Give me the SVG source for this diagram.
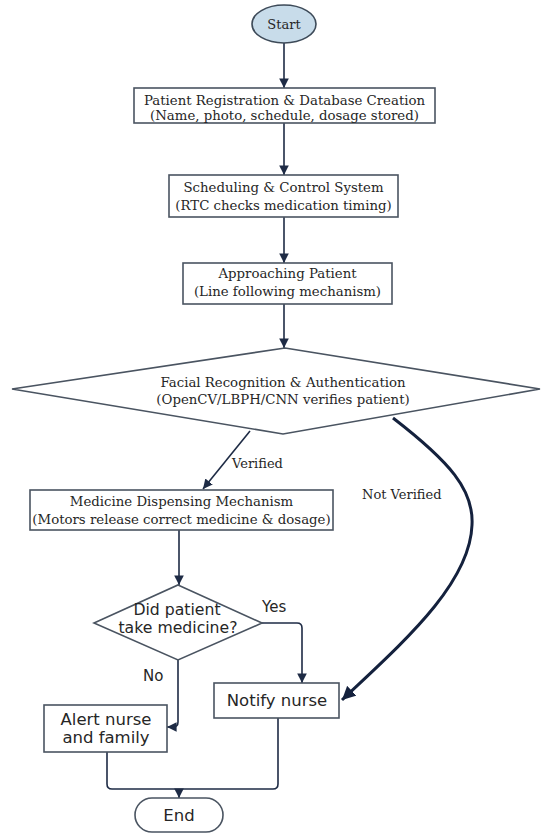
<svg xmlns="http://www.w3.org/2000/svg" width="542" height="834" viewBox="0 0 542 834">
<style>
.bg{fill:#ffffff}
.box{fill:#ffffff;stroke:#4a5461;stroke-width:1.6}
.term{fill:#c8dcea;stroke:#3d4a58;stroke-width:1.6}
.serif{font-family:"DejaVu Serif","Liberation Serif",serif;font-size:13.3px;fill:#262626;text-anchor:middle}
.sans{font-family:"DejaVu Sans","Liberation Sans",sans-serif;font-size:16.5px;fill:#262626;text-anchor:middle}
.conn{fill:none;stroke:#1e2b45;stroke-width:1.6}
.thick{fill:none;stroke:#14213d;stroke-width:3}
.lbl{font-family:"DejaVu Serif","Liberation Serif",serif;font-size:13px;fill:#262626}
.slbl{font-family:"DejaVu Sans","Liberation Sans",sans-serif;font-size:15px;fill:#262626}
</style>
<defs>
<marker id="ah" viewBox="0 0 10 10" refX="10" refY="5" markerWidth="6" markerHeight="6" markerUnits="strokeWidth" orient="auto">
<path d="M0,0 L10,5 L0,10 z" fill="#1e2b45"/>
</marker>
<marker id="ahs" viewBox="0 0 10 10" refX="10" refY="5" markerWidth="4.5" markerHeight="4.5" markerUnits="strokeWidth" orient="auto">
<path d="M0,0 L10,5 L0,10 z" fill="#14213d"/>
</marker>
</defs>
<rect class="bg" x="0" y="0" width="542" height="834"/>

<g id="connectors">
<path class="conn" d="M284,43 L284,88" marker-end="url(#ah)"/>
<path class="conn" d="M284,123 L284,175" marker-end="url(#ah)"/>
<path class="conn" d="M284,217 L284,263" marker-end="url(#ah)"/>
<path class="conn" d="M284,304 L284,348" marker-end="url(#ah)"/>
<path class="conn" d="M250,431 L203,489" marker-end="url(#ah)"/>
<path class="thick" d="M393,418 C450,462 474,490 472,525 C470,585 400,645 342,700" marker-end="url(#ahs)"/>
<path class="conn" d="M179,530 L179,585" marker-end="url(#ah)"/>
<path class="conn" d="M261,623 L297,623 Q302,623 302,628 L302,683" marker-end="url(#ah)"/>
<path class="conn" d="M178,660 L178,722 Q178,727 173,727 L167,727" marker-end="url(#ah)"/>
<path class="conn" d="M107,752 L107,784 Q107,789 112,789 L273,789 Q278,789 278,784 L278,718"/>
<path class="conn" d="M179,789 L179,798" marker-end="url(#ah)"/>
</g>

<g id="start">
<ellipse class="term" cx="284" cy="24" rx="32" ry="19"/>
<text class="serif" x="284" y="29" style="font-size:13px">Start</text>
</g>

<g id="registration">
<rect class="box" x="134" y="88" width="301" height="35"/>
<text class="serif" x="284.5" y="104.5">Patient Registration &amp; Database Creation</text>
<text class="serif" x="284.5" y="120">(Name, photo, schedule, dosage stored)</text>
</g>

<g id="scheduling">
<rect class="box" x="169" y="175" width="229" height="42"/>
<text class="serif" x="283.5" y="192">Scheduling &amp; Control System</text>
<text class="serif" x="283.5" y="210">(RTC checks medication timing)</text>
</g>

<g id="approaching">
<rect class="box" x="183" y="263" width="209" height="41"/>
<text class="serif" x="287.5" y="278">Approaching Patient</text>
<text class="serif" x="287.5" y="296">(Line following mechanism)</text>
</g>

<g id="facial">
<polygon class="box" points="285,348 540,389 283,434 12,389"/>
<text class="serif" x="283" y="387">Facial Recognition &amp; Authentication</text>
<text class="serif" x="283" y="404">(OpenCV/LBPH/CNN verifies patient)</text>
</g>

<g id="dispensing">
<rect class="box" x="30" y="490" width="303" height="40"/>
<text class="serif" x="181.5" y="506">Medicine Dispensing Mechanism</text>
<text class="serif" x="181.5" y="524">(Motors release correct medicine &amp; dosage)</text>
</g>

<g id="taken">
<polygon class="box" points="178,585 262,623 178,660 94,623"/>
<text class="sans" x="177" y="615" style="font-size:15.7px">Did patient</text>
<text class="sans" x="178" y="633" style="font-size:15.7px">take medicine?</text>
</g>

<g id="alert">
<rect class="box" x="44" y="705" width="123" height="47"/>
<text class="sans" x="106" y="725">Alert nurse</text>
<text class="sans" x="106" y="743">and family</text>
</g>

<g id="notify">
<rect class="box" x="214" y="683" width="125" height="35"/>
<text class="sans" x="277" y="706">Notify nurse</text>
</g>

<g id="end">
<rect class="box" x="135" y="798" width="88" height="34" rx="17"/>
<text class="sans" x="179" y="821">End</text>
</g>

<g id="labels">
<text class="lbl" x="232" y="468">Verified</text>
<text class="lbl" x="362" y="499">Not Verified</text>
<text class="slbl" x="262" y="612">Yes</text>
<text class="slbl" x="143" y="681">No</text>
</g>
</svg>
